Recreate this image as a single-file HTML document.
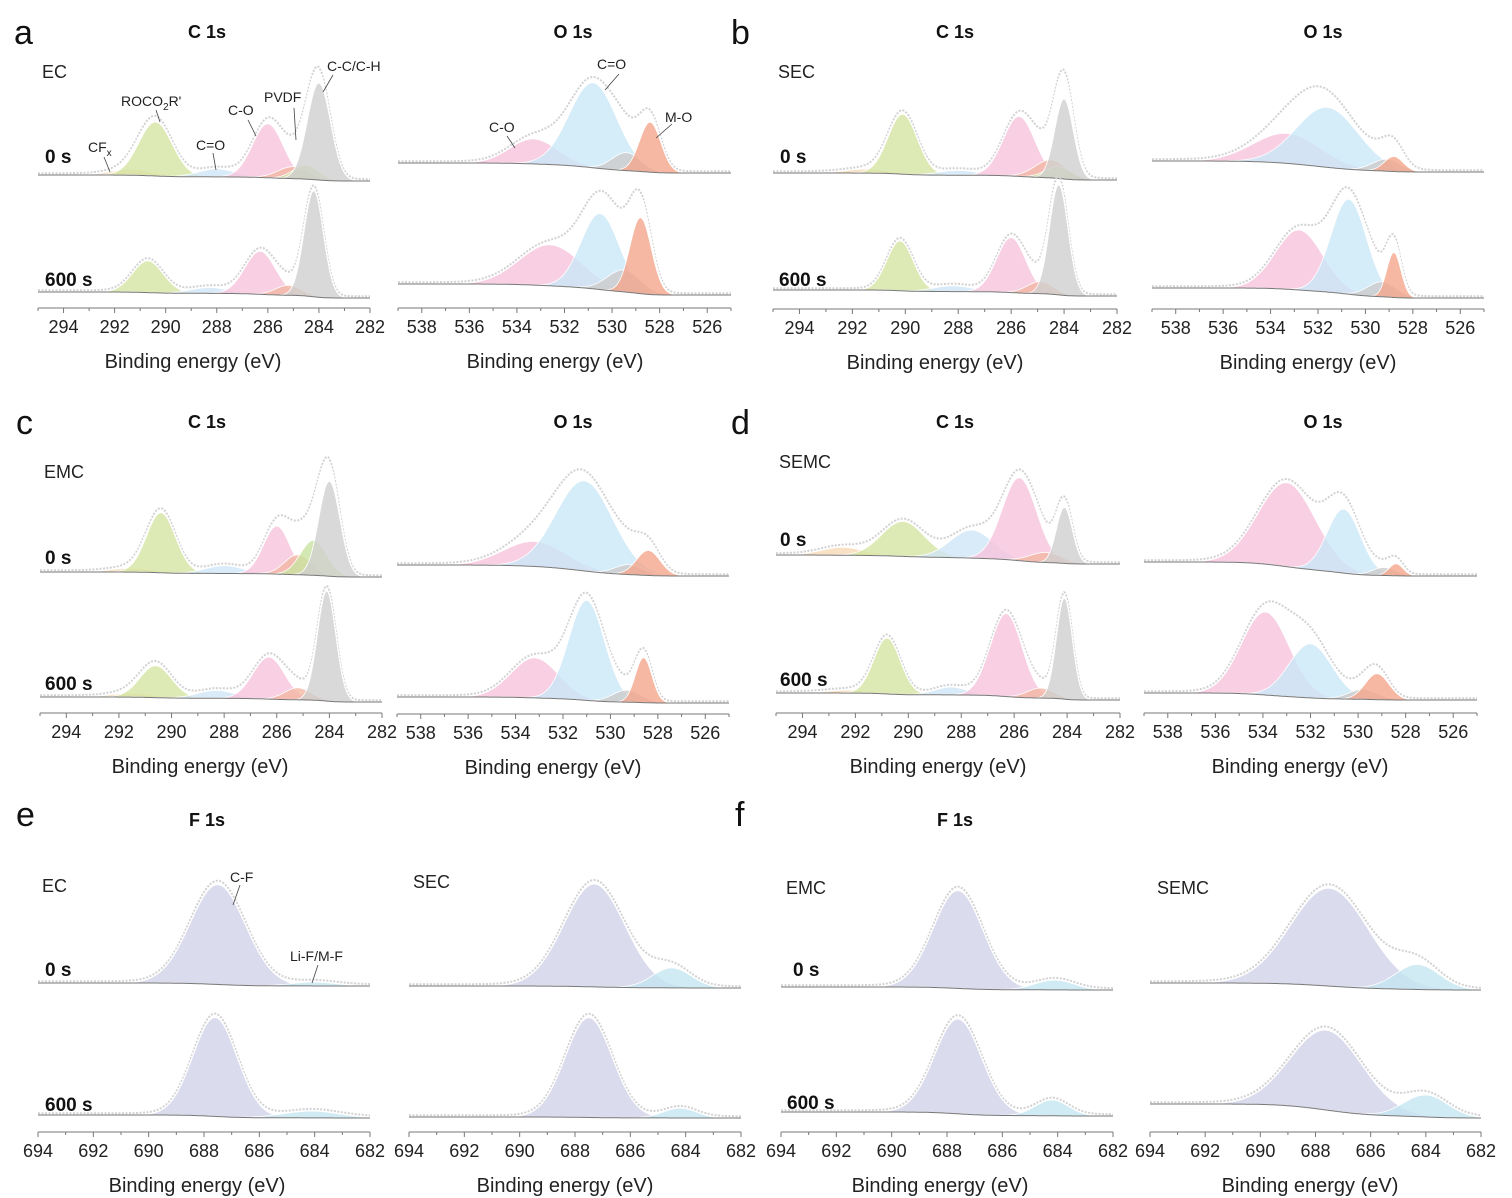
<!DOCTYPE html>
<html><head><meta charset="utf-8">
<style>
html,body{margin:0;padding:0;background:#fff;}
svg{display:block;font-family:"Liberation Sans",Arial,sans-serif;}
.tick{font-size:18px;fill:#222;text-anchor:middle;}
.axt{font-size:20px;fill:#222;text-anchor:middle;}
.ttl{font-size:18px;font-weight:bold;fill:#111;text-anchor:middle;}
.let{font-size:34px;fill:#111;}
.smp{font-size:18px;fill:#222;}
.tm{font-size:19px;font-weight:bold;fill:#111;}
.ann{font-size:14px;fill:#222;}
</style></head>
<body>
<svg id="fig" width="1512" height="1198" viewBox="0 0 1512 1198"></svg>
<script>
// ---------- DATA (peak components: center eV, intensity a.u., sigma eV) ----------
const aC_0s_peak=['CFx','ROCO2R','C=O','C-O','PVDF','Cx','C-C'];
const aC_0s_center=[291.3,290.4,288.0,286.0,285.0,284.5,284.0];
const aC_0s_int=[6,54,8,54,12,14,97];
const aC_0s_sigma=[0.8,0.65,0.7,0.6,0.6,0.5,0.45];
const aC_600_peak=['ROCO2R','C=O','C-O','PVDF','C-C'];
const aC_600_center=[290.7,288.3,286.3,285.2,284.2];
const aC_600_int=[32,6,43,10,106];
const aC_600_sigma=[0.6,0.7,0.6,0.5,0.38];
const aO_0s_peak=['C-O','O=C','MG','M-O'];
const aO_0s_center=[533.3,530.8,529.4,528.4];
const aO_0s_int=[25,85,18,50];
const aO_0s_sigma=[1.0,1.0,0.6,0.45];
const aO_600_peak=['C-O','O=C','MG','M-O'];
const aO_600_center=[532.6,530.5,529.5,528.8];
const aO_600_int=[41,76,22,76];
const aO_600_sigma=[1.3,0.8,0.7,0.45];

const bC_0s_peak=['CFx','ROCO2R','C=O','C-O','PVDF','Cx','C-C'];
const bC_0s_center=[291.5,290.1,288.0,285.7,284.5,284.2,284.0];
const bC_0s_int=[4,60,5,60,18,12,80];
const bC_0s_sigma=[0.8,0.55,0.7,0.6,0.6,0.5,0.35];
const bC_600_peak=['ROCO2R','C=O','C-O','PVDF','C-C'];
const bC_600_center=[290.2,288.2,286.0,284.9,284.2];
const bC_600_int=[50,6,55,12,110];
const bC_600_sigma=[0.5,0.7,0.55,0.5,0.35];
const bO_0s_peak=['C-O','O=C','MG','M-O'];
const bO_0s_center=[533.3,531.6,529.1,528.8];
const bO_0s_int=[30,60,12,15];
const bO_0s_sigma=[1.4,1.3,0.6,0.4];
const bO_600_peak=['C-O','O=C','MG','M-O'];
const bO_600_center=[532.8,530.7,529.3,528.8];
const bO_600_int=[60,95,15,45];
const bO_600_sigma=[1.0,0.75,0.6,0.3];

const cC_0s_peak=['CFx','ROCO2R','C=O','C-O','PVDF','Cx','C-C'];
const cC_0s_center=[291.5,290.4,288.0,286.0,285.2,284.6,284.0];
const cC_0s_int=[4,60,8,48,20,35,95];
const cC_0s_sigma=[0.8,0.55,0.7,0.5,0.5,0.5,0.4];
const cC_600_peak=['CFx','ROCO2R','C=O','C-O','PVDF','C-C'];
const cC_600_center=[291.5,290.6,288.3,286.3,285.2,284.1];
const cC_600_int=[4,32,8,42,12,110];
const cC_600_sigma=[0.8,0.6,0.7,0.6,0.5,0.35];
const cO_0s_peak=['C-O','O=C','MG','M-O'];
const cO_0s_center=[533.2,531.1,529.2,528.4];
const cO_0s_int=[25,90,10,25];
const cO_0s_sigma=[1.3,1.2,0.6,0.5];
const cO_600_peak=['C-O','O=C','MG','M-O'];
const cO_600_center=[533.2,531.0,529.3,528.6];
const cO_600_int=[40,100,12,45];
const cO_600_sigma=[1.0,0.75,0.6,0.35];

const dC_0s_peak=['CFx','ROCO2R','C=O','C-O','PVDF','C-C'];
const dC_0s_center=[292.5,290.2,287.6,285.8,284.8,284.1];
const dC_0s_int=[8,35,28,83,10,56];
const dC_0s_sigma=[0.8,0.8,0.8,0.65,0.6,0.3];
const dC_600_peak=['CFx','ROCO2R','C=O','C-O','PVDF','C-C'];
const dC_600_center=[292.3,290.8,288.4,286.3,285.0,284.1];
const dC_600_int=[3,56,8,83,10,101];
const dC_600_sigma=[0.8,0.5,0.6,0.6,0.5,0.3];
const dO_0s_peak=['C-O','O=C','MG','M-O'];
const dO_0s_center=[533.0,530.6,528.9,528.4];
const dO_0s_int=[84,64,8,12];
const dO_0s_sigma=[1.2,0.7,0.5,0.3];
const dO_600_peak=['C-O','O=C','MG','M-O'];
const dO_600_center=[533.9,532.0,529.8,529.2];
const dO_600_int=[83,54,10,26];
const dO_600_sigma=[1.0,0.9,0.6,0.5];

const eL_0s_peak=['C-F','Li-F'];
const eL_0s_center=[687.5,684.0];
const eL_0s_int=[100,4];
const eL_0s_sigma=[1.0,0.8];
const eL_600_peak=['C-F','Li-F'];
const eL_600_center=[687.6,684.1];
const eL_600_int=[99,7];
const eL_600_sigma=[0.8,1.0];
const eR_0s_peak=['C-F','Li-F'];
const eR_0s_center=[687.3,684.5];
const eR_0s_int=[103,20];
const eR_0s_sigma=[1.1,0.7];
const eR_600_peak=['C-F','Li-F'];
const eR_600_center=[687.5,684.2];
const eR_600_int=[100,10];
const eR_600_sigma=[0.85,0.6];

const fL_0s_peak=['C-F','Li-F'];
const fL_0s_center=[687.6,684.1];
const fL_0s_int=[98,10];
const fL_0s_sigma=[0.9,0.7];
const fL_600_peak=['C-F','Li-F'];
const fL_600_center=[687.6,684.2];
const fL_600_int=[95,16];
const fL_600_sigma=[0.85,0.6];
const fR_0s_peak=['C-F','Li-F'];
const fR_0s_center=[687.5,684.3];
const fR_0s_int=[98,25];
const fR_0s_sigma=[1.4,0.8];
const fR_600_peak=['C-F','Li-F'];
const fR_600_center=[687.6,684.0];
const fR_600_int=[80,22];
const fR_600_sigma=[1.3,0.8];

const C_ticks=[294,292,290,288,286,284,282];
const O_ticks=[538,536,534,532,530,528,526];
const F_ticks=[694,692,690,688,686,684,682];

// ---------- LAYOUT ----------
const COLORS={'CFx':'#f7d9b8','ROCO2R':'#d6e5a3','C=O':'#cfe6f6','C-O':'#f6c3dc','PVDF':'#f2b6a4','Cx':'#c9e2a0','C-C':'#cfcfcf',
 'O=C':'#cbe7f8','MG':'#cccccc','M-O':'#f4a68c','C-F':'#d2d2ea','Li-F':'#c4e6f0'};
const panels=[
 {id:'aC',x0:38,x1:370,e0:295,e1:282,ay:308,tx:193,ticks:C_ticks,sp:[{k:'aC_0s',bl:[175,181]},{k:'aC_600',bl:[292,298]}]},
 {id:'aO',x0:398,x1:731,e0:539,e1:525,ay:308,tx:555,ticks:O_ticks,sp:[{k:'aO_0s',bl:[163,173]},{k:'aO_600',bl:[284,295]}]},
 {id:'bC',x0:773,x1:1117,e0:295,e1:282,ay:309,tx:935,ticks:C_ticks,sp:[{k:'bC_0s',bl:[173,180]},{k:'bC_600',bl:[290,296]}]},
 {id:'bO',x0:1152,x1:1484,e0:539,e1:525,ay:309,tx:1308,ticks:O_ticks,sp:[{k:'bO_0s',bl:[161,172]},{k:'bO_600',bl:[288,298]}]},
 {id:'cC',x0:40,x1:382,e0:295,e1:282,ay:713,tx:200,ticks:C_ticks,sp:[{k:'cC_0s',bl:[572,577]},{k:'cC_600',bl:[697,702]}]},
 {id:'cO',x0:397,x1:729,e0:539,e1:525,ay:714,tx:553,ticks:O_ticks,sp:[{k:'cO_0s',bl:[565,576]},{k:'cO_600',bl:[697,703]}]},
 {id:'dC',x0:776,x1:1120,e0:295,e1:282,ay:713,tx:938,ticks:C_ticks,sp:[{k:'dC_0s',bl:[555,564]},{k:'dC_600',bl:[693,700]}]},
 {id:'dO',x0:1144,x1:1477,e0:539,e1:525,ay:713,tx:1300,ticks:O_ticks,sp:[{k:'dO_0s',bl:[562,576]},{k:'dO_600',bl:[693,700]}]},
 {id:'eL',x0:38,x1:370,e0:694,e1:682,ay:1132,tx:197,ticks:F_ticks,sp:[{k:'eL_0s',bl:[983,986]},{k:'eL_600',bl:[1115,1118]}]},
 {id:'eR',x0:409,x1:741,e0:694,e1:682,ay:1132,tx:565,ticks:F_ticks,sp:[{k:'eR_0s',bl:[986,988]},{k:'eR_600',bl:[1117,1118]}]},
 {id:'fL',x0:781,x1:1113,e0:694,e1:682,ay:1132,tx:940,ticks:F_ticks,sp:[{k:'fL_0s',bl:[987,990]},{k:'fL_600',bl:[1112,1116]}]},
 {id:'fR',x0:1150,x1:1481,e0:694,e1:682,ay:1132,tx:1310,ticks:F_ticks,sp:[{k:'fR_0s',bl:[983,990]},{k:'fR_600',bl:[1104,1118]}]}
];
const DATA={
 aC_0s:[aC_0s_peak,aC_0s_center,aC_0s_int,aC_0s_sigma],aC_600:[aC_600_peak,aC_600_center,aC_600_int,aC_600_sigma],
 aO_0s:[aO_0s_peak,aO_0s_center,aO_0s_int,aO_0s_sigma],aO_600:[aO_600_peak,aO_600_center,aO_600_int,aO_600_sigma],
 bC_0s:[bC_0s_peak,bC_0s_center,bC_0s_int,bC_0s_sigma],bC_600:[bC_600_peak,bC_600_center,bC_600_int,bC_600_sigma],
 bO_0s:[bO_0s_peak,bO_0s_center,bO_0s_int,bO_0s_sigma],bO_600:[bO_600_peak,bO_600_center,bO_600_int,bO_600_sigma],
 cC_0s:[cC_0s_peak,cC_0s_center,cC_0s_int,cC_0s_sigma],cC_600:[cC_600_peak,cC_600_center,cC_600_int,cC_600_sigma],
 cO_0s:[cO_0s_peak,cO_0s_center,cO_0s_int,cO_0s_sigma],cO_600:[cO_600_peak,cO_600_center,cO_600_int,cO_600_sigma],
 dC_0s:[dC_0s_peak,dC_0s_center,dC_0s_int,dC_0s_sigma],dC_600:[dC_600_peak,dC_600_center,dC_600_int,dC_600_sigma],
 dO_0s:[dO_0s_peak,dO_0s_center,dO_0s_int,dO_0s_sigma],dO_600:[dO_600_peak,dO_600_center,dO_600_int,dO_600_sigma],
 eL_0s:[eL_0s_peak,eL_0s_center,eL_0s_int,eL_0s_sigma],eL_600:[eL_600_peak,eL_600_center,eL_600_int,eL_600_sigma],
 eR_0s:[eR_0s_peak,eR_0s_center,eR_0s_int,eR_0s_sigma],eR_600:[eR_600_peak,eR_600_center,eR_600_int,eR_600_sigma],
 fL_0s:[fL_0s_peak,fL_0s_center,fL_0s_int,fL_0s_sigma],fL_600:[fL_600_peak,fL_600_center,fL_600_int,fL_600_sigma],
 fR_0s:[fR_0s_peak,fR_0s_center,fR_0s_int,fR_0s_sigma],fR_600:[fR_600_peak,fR_600_center,fR_600_int,fR_600_sigma]
};

const NS='http://www.w3.org/2000/svg';
const svg=document.getElementById('fig');
function mk(tag,attrs,parent){const e=document.createElementNS(NS,tag);for(const k in attrs)e.setAttribute(k,attrs[k]);(parent||svg).appendChild(e);return e;}
function txt(s,x,y,cls,name,parent){const t=mk('text',{x:x,y:y,class:cls},parent);t.textContent=s;
 
 
 return t;}

panels.forEach(p=>{
 const g=mk('g',{});
 
 
 const xs=E=>p.x0+(p.e0-E)/(p.e0-p.e1)*(p.x1-p.x0);
 const N=Math.round(p.x1-p.x0);
 const Es=[];for(let i=0;i<=N;i++)Es.push(p.e0-(p.e0-p.e1)*i/N);
 p.sp.forEach(s=>{
  const [names,cen,inten,sig]=DATA[s.k];
  const comps=names.map((n,j)=>Es.map(E=>inten[j]*Math.exp(-0.5*Math.pow((E-cen[j])/sig[j],2))));
  const sum=Es.map((E,i)=>comps.reduce((a,c)=>a+c[i],0));
  let cum=0;const cumArr=sum.map(v=>{cum+=v;return cum;});const tot=cum||1;
  const base=cumArr.map(c=>s.bl[0]+(s.bl[1]-s.bl[0])*c/tot);
  const sg=mk('g',{},g);
  
  
  comps.forEach((c,j)=>{
   let d='';
   Es.forEach((E,i)=>{d+=(i?'L':'M')+xs(E).toFixed(1)+','+(base[i]-c[i]).toFixed(1);});
   for(let i=Es.length-1;i>=0;i--)d+='L'+xs(Es[i]).toFixed(1)+','+base[i].toFixed(1);
   const path=mk('path',{d:d+'Z',fill:COLORS[names[j]],'fill-opacity':0.8,stroke:'#fff','stroke-width':0.8},sg);
   
   
  });
  let dl='',de='',dw='';
  Es.forEach((E,i)=>{const X=xs(E).toFixed(1);
   dl+=(i?'L':'M')+X+','+base[i].toFixed(1);
   dw+=(i?'L':'M')+X+','+(base[i]-sum[i]).toFixed(1);
   de+=(i?'L':'M')+X+','+(base[i]-sum[i]*1.02-1.8).toFixed(1);});
  const env=mk('path',{d:de,fill:'none',stroke:'#d2d2d2','stroke-width':2,'stroke-dasharray':'2 1.5'},sg);
  
  
  const fit=mk('path',{d:dw,fill:'none',stroke:'#fff','stroke-width':1.2},sg);
  
  
  const bl=mk('path',{d:dl,fill:'none',stroke:'#777','stroke-width':1},sg);
  
  
 });
 const ax=mk('line',{x1:p.x0,x2:p.x1,y1:p.ay,y2:p.ay,stroke:'#777','stroke-width':1},g);
 
 
 for(let E=Math.ceil(p.e1);E<=p.e0;E++){
  const maj=p.ticks.indexOf(E)>=0;
  mk('line',{x1:xs(E),x2:xs(E),y1:p.ay,y2:p.ay+(maj?5:3),stroke:'#777','stroke-width':1},g);
 }
 p.ticks.forEach(t=>{txt(String(t),xs(t),p.ay+25,'tick','tick-label',g);});
 txt('Binding energy (eV)',p.tx,p.ay+60,'axt','x-axis-title',g);
});

[['a',14,44],['b',731,44],['c',16,434],['d',731,434],['e',16,826],['f',735,826]].forEach(l=>txt(l[0],l[1],l[2],'let','panel-label-'+l[0]));
[['C 1s',207,38],['O 1s',573,38],['C 1s',955,38],['O 1s',1323,38],['C 1s',207,428],['O 1s',573,428],['C 1s',955,428],['O 1s',1323,428],['F 1s',207,826],['F 1s',955,826]]
 .forEach(t=>txt(t[0],t[1],t[2],'ttl','panel-title'));
[['EC',42,78],['SEC',778,78],['EMC',44,478],['SEMC',779,468],['EC',42,892],['SEC',413,888],['EMC',786,894],['SEMC',1157,894]]
 .forEach(t=>txt(t[0],t[1],t[2],'smp','sample-label'));
[['0 s',45,163],['600 s',45,286],['0 s',780,163],['600 s',779,286],['0 s',45,564],['600 s',45,690],['0 s',780,546],['600 s',780,686],['0 s',45,976],['600 s',45,1111],['0 s',793,976],['600 s',787,1109]]
 .forEach(t=>txt(t[0],t[1],t[2],'tm','time-label'));
const an=[['CF',88,152],['ROCO',121,106],['C=O',196,150],['C-O',228,115],['PVDF',264,102],['C-C/C-H',327,71],['C-O',489,132],['C=O',597,69],['M-O',665,122],['C-F',230,882],['Li-F/M-F',290,961]];
an.forEach(a=>{
 const t=txt('',a[1],a[2],'ann','peak-annotation');
 if(a[0]==='CF'){t.innerHTML='CF<tspan dy="4" font-size="10">x</tspan>';}
 else if(a[0]==='ROCO'){t.innerHTML='ROCO<tspan dy="4" font-size="10">2</tspan><tspan dy="-4">R\'</tspan>';}
 else t.textContent=a[0];
 if(a[1]>480&&a[1]<700&&a[2]<140){t.setAttribute('font-size','12');}
});
[[104,157,110,172],[156,110,160,122],[213,153,216,170],[248,120,256,136],[294,108,296,140],[333,75,323,92],[507,136,515,148],[619,74,605,90],[672,124,656,138],[240,885,233,905],[318,965,312,983]]
 .forEach(l=>{const e=mk('line',{x1:l[0],y1:l[1],x2:l[2],y2:l[3],stroke:'#444','stroke-width':0.8});
  
  });
</script>
</body></html>
